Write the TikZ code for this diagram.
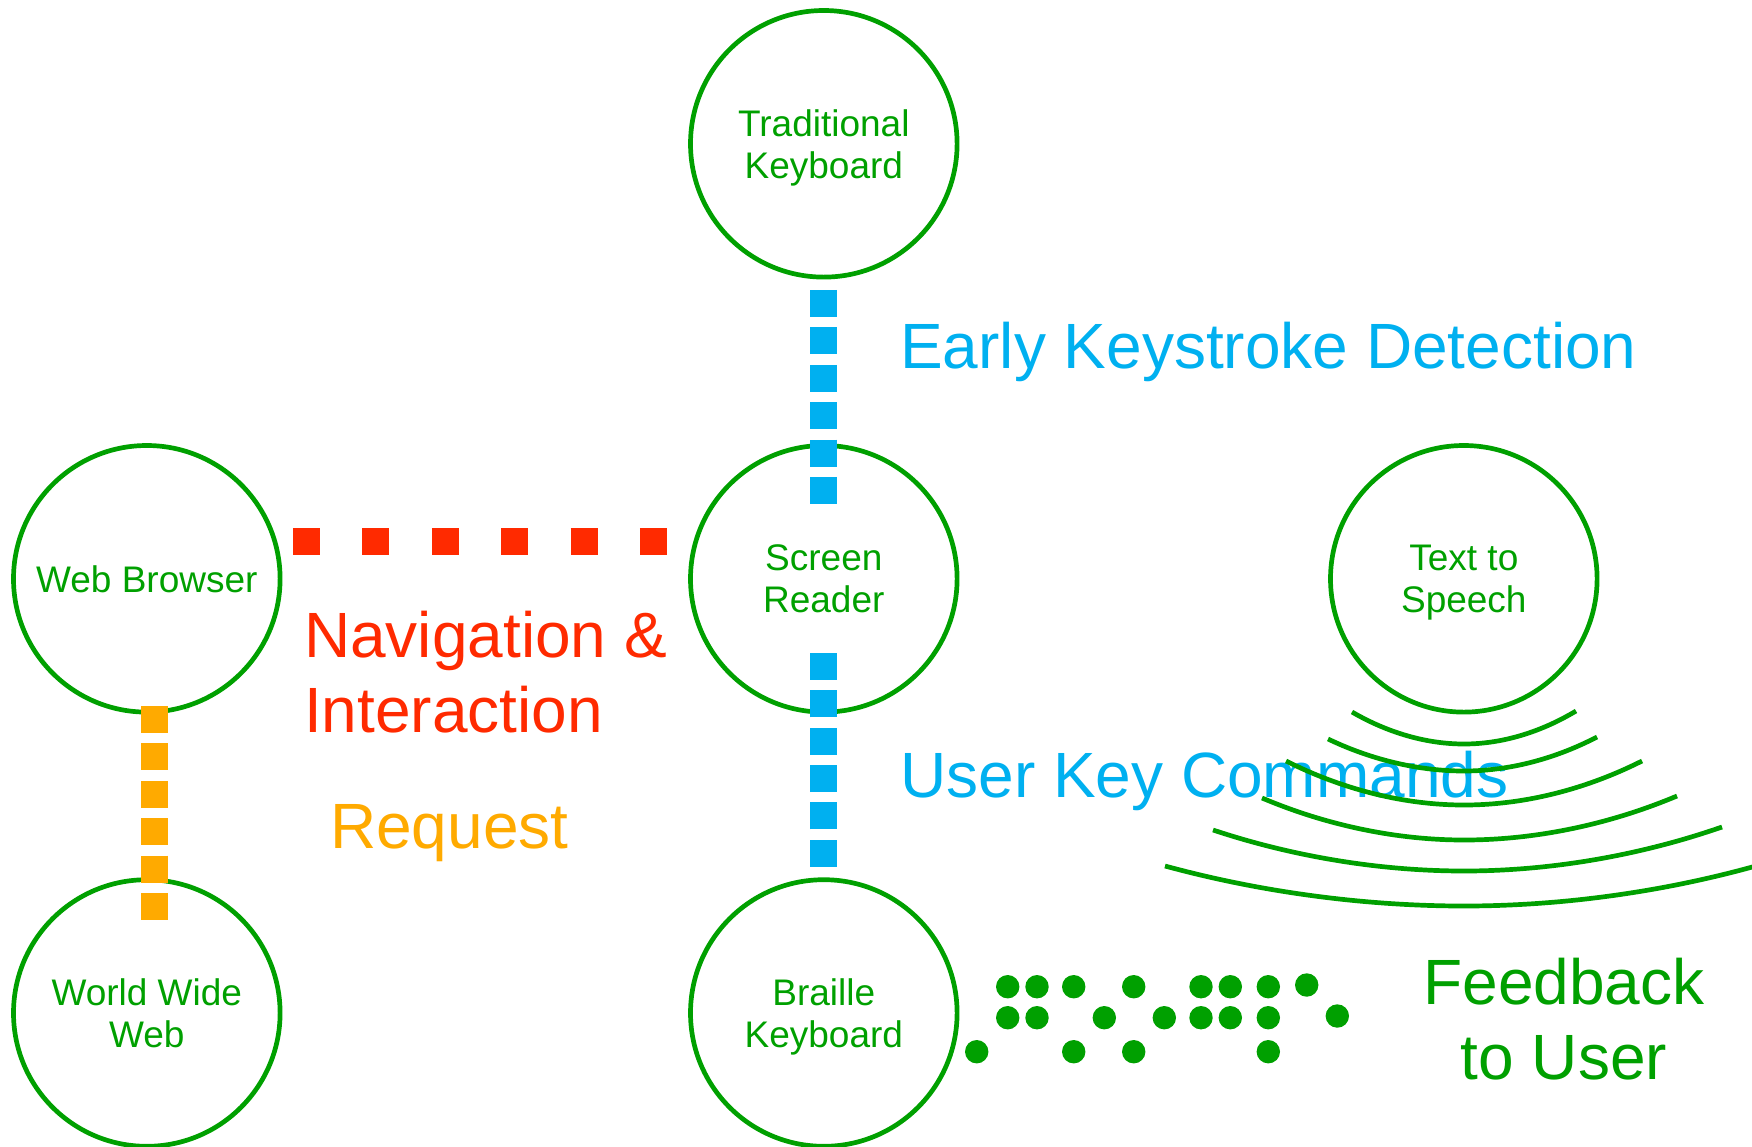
\documentclass[tikz,border=0pt]{standalone}
\usepackage{fontspec}
\setmainfont{Liberation Sans}
\usepackage{tikz}
\usetikzlibrary{calc}
\definecolor{devgreen}{RGB}{0,160,0}
\definecolor{keyblue}{RGB}{0,176,240}
\definecolor{navred}{RGB}{255,42,0}
\definecolor{reqorange}{RGB}{255,170,0}

\begin{document}
\begin{tikzpicture}[x=1pt,y=-1pt,
        device/.style={circle,draw=devgreen,line width=4.7pt,minimum size=266.6pt,inner sep=0pt,
            text=devgreen,align=center,text depth=0pt,font=\fontsize{37}{42}\selectfont},
        keypath/.style={draw=keyblue,line width=27pt,dash pattern=on 27pt off 10.4pt},
        navpath/.style={draw=navred,line width=27pt,dash pattern=on 27pt off 42.4pt},
        reqpath/.style={draw=reqorange,line width=27pt,dash pattern=on 27pt off 10.4pt},
        linktext/.style={font=\fontsize{64}{75}\selectfont,inner sep=0pt,anchor=base west},
        wave/.style={draw=devgreen,line width=4.7pt}]
            \useasboundingbox (0,0) rectangle (1752,1146);
            \node[device] (tk)  at (823.8,143.8) {Traditional\\Keyboard};
            \node[device] (sr)  at (823.8,578.8) {Screen\\Reader};
            \node[device] (wb)  at (146.8,578.8) {Web Browser};
            \node[device] (tts) at (1463.8,578.8) {Text to\\Speech};
            \node[device] (www) at (146.8,1013) {World Wide\\Web};
            \node[device] (bk)  at (823.8,1013) {Braille\\Keyboard};
            \draw[keypath] ([yshift=-10.5pt]tk.south) -- ++(0,214);
            \draw[keypath] ([yshift=10.5pt]bk.north) -- ++(0,-214);
            \draw[navpath] ([shift={(10.5pt,37.5pt)}]wb.east) -- ++(374,0);
            \draw[reqpath] ([shift={(7.5pt,8.5pt)}]wb.south) -- ++(0,214);
            \node[linktext,text=keyblue] (early) at (900,368) {Early Keystroke Detection};
            \node[linktext,text=keyblue] (cmds) at (900,797) {User Key Commands};
            \node[linktext,text=navred,align=left] (nav) at (304,732) {Navigation \&\\Interaction};
            \node[linktext,text=reqorange] (req) at (330,848) {Request};
            \node[linktext,text=devgreen,align=center,anchor=base] (fb) at (1564,1079) {Feedback\\to User};
            \foreach \x/\y in {1007.7/986.7,1037/986.7,1073.7/986.7,1133.7/986.7,1201/986.7,1230.3/986.7,
                1268.3/986.7,1306.7/985,1007.7/1017.7,1037/1017.7,1104.3/1017.7,1164.3/1017.7,
                1201/1017.7,1230.3/1017.7,1268.3/1017.7,1337.3/1016,976.7/1051.7,1073.7/1051.7,
                1133.7/1051.7,1268.3/1051.7}
                \fill[devgreen] (\x,\y) circle[radius=11.7pt]; % braille cells
            \draw[wave] (1352,712) parabola bend (1464,744) (1576,711);
            \draw[wave] (1328,739) parabola bend (1464,771) (1597,737);
            \draw[wave] (1286,761) parabola bend (1464,805) (1642,761);
            \draw[wave] (1262,798) parabola bend (1464,840) (1677,796);
            \draw[wave] (1213,830) parabola bend (1464,871) (1722,827);
            \draw[wave] (1165,866) parabola bend (1464,906) (1763,864);
        \end{tikzpicture}
\end{document}
